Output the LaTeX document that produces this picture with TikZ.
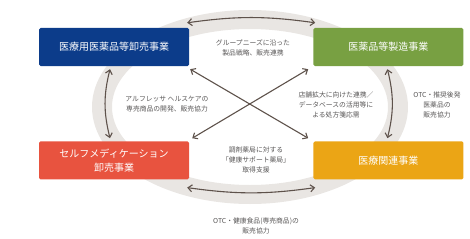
\documentclass[tikz,border=0pt]{standalone}
\usepackage{fontspec}
\setmainfont{Noto Sans CJK JP}
\usepackage{tikz}
\usetikzlibrary{arrows.meta,positioning}
\definecolor{bizA}{HTML}{0C3C8A}
\definecolor{bizB}{HTML}{78A042}
\definecolor{bizC}{HTML}{E8533F}
\definecolor{bizD}{HTML}{EBA515}
\definecolor{ringgray}{HTML}{E9E6E3}
\definecolor{link}{HTML}{5E524B}
\definecolor{note}{HTML}{595757}

\begin{document}
\begin{tikzpicture}[
  x=1pt, y=-1pt,
  box/.style={rectangle, rounded corners=1.5pt, fill=#1, text=white, align=center,
              minimum width=150pt, minimum height=38pt, inner sep=2pt,
              font=\fontsize{10}{14}\selectfont},
  lbl/.style={align=center, text=note, inner sep=0pt, font=\fontsize{6.8}{10}\selectfont},
  dbl/.style={{Straight Barb[length=4pt,width=7pt]}-{Straight Barb[length=4pt,width=7pt]},
              link, line width=1.1pt}
]
\useasboundingbox (0,0) rectangle (470,238);

% ---- Background ring ----
\fill[ringgray, even odd rule] (250,107) ellipse [x radius=158, y radius=97]
                               (250,107) ellipse [x radius=138, y radius=78];

% ---- Business boxes ----
\node[box=bizA] (A) at (114,47) {医療用医薬品等卸売事業};
\node[box=bizB, right=124pt of A] (B) {医薬品等製造事業};
\node[box=bizC, below=75pt of A] (C) {セルフメディケーション\\卸売事業};
\node[box=bizD, right=124pt of C] (D) {医療関連事業};

% ---- Links ----
\draw[dbl] ([shift={(-2pt,5pt)}]A.north east) to[bend left=8] ([shift={(2pt,5pt)}]B.north west);
\draw[dbl] ([shift={(-4pt,-3pt)}]A.south) to[bend right=14] ([shift={(-4pt,3pt)}]C.north);
\draw[dbl] ([shift={(-1pt,-3pt)}]B.south) to[bend left=14] ([shift={(-1pt,3pt)}]D.north);
\draw[dbl] ([shift={(-2pt,-8pt)}]C.south east) to[bend right=8] ([shift={(2pt,-8pt)}]D.south west);
\draw[dbl] ([shift={(1pt,-3pt)}]A.south east) -- ([shift={(-5pt,3pt)}]D.north west);
\draw[dbl] ([shift={(-5pt,-3pt)}]B.south west) -- ([shift={(3pt,3pt)}]C.north east);

% ---- Labels ----
\node[lbl] (nAB) at (253,48) {グループニーズに沿った\\製品戦略、販売連携};
\node[lbl] (nAC) at (167,104) {アルフレッサ ヘルスケアの\\専売商品の開発、販売協力};
\node[lbl] (nBC) at (336,104.5) {店舗拡大に向けた連携／\\データベースの活用等に\\よる処方箋応需};
\node[lbl] (nBD) at (437,104.5) {OTC・推奨後発\\医薬品の\\販売協力};
\node[lbl] (nAD) at (256,160) {調剤薬局に対する\\「健康サポート薬局」\\取得支援};
\node[lbl] (nCD) at (256,226) {OTC・健康食品(専売商品)の\\販売協力};

\end{tikzpicture}
\end{document}
